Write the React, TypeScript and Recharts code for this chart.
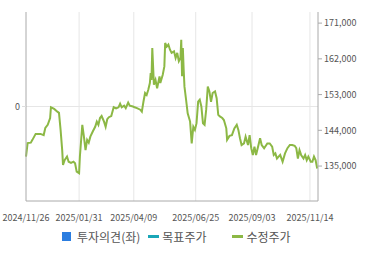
import { LineChart, Line, XAxis, YAxis, ReferenceLine } from "recharts";

// first trading day shown on the chart
const startDate = "2024-11-26";

const dateTicks = ["2024/11/26", "2025/01/31", "2025/04/09", "2025/06/25", "2025/09/03", "2025/11/14"];
const priceTicks = [135000, 144000, 153000, 162000, 171000];
const opinionTicks = [0];

// days since startDate
const days = [
    0, 2, 6, 8, 12, 18, 22, 24, 27, 30, 31, 35, 39, 41, 43, 45, 46, 48, 51, 53, 56, 59, 61, 63, 66, 67,
    70, 72, 74, 76, 78, 80, 83, 86, 88, 90, 92, 94, 97, 99, 101, 103, 106, 109, 112, 115, 117, 119, 122,
    124, 127, 129, 133, 135, 138, 142, 144, 146, 148, 150, 152, 154, 155, 156, 157, 159, 161, 163, 166,
    167, 170, 172, 173, 175, 177, 179, 181, 184, 186, 188, 190, 192, 193, 194, 195, 196, 197, 199, 201,
    204, 206, 208, 210, 212, 214, 216, 218, 220, 222, 224, 226, 228, 230, 232, 235, 237, 239, 241, 244,
    246, 249, 250, 253, 256, 259, 262, 264, 266, 268, 271, 273, 276, 278, 280, 282, 284, 286, 289, 291,
    293, 296, 300, 303, 306, 308, 310, 312, 316, 319, 322, 325, 328, 331, 334, 336, 338, 340, 342, 345,
    347, 349, 351, 354, 356, 358, 360, 362,
];

// 수정주가 (adjusted price)
const adjPrices = [
    137400, 140800, 140900, 141600, 143100, 143100, 142800, 144600, 145400, 147100, 149800, 149400, 148700,
    148400, 144100, 139000, 135300, 136500, 137400, 136100, 135800, 136100, 135700, 133600, 133200, 137400,
    145400, 142400, 139000, 141600, 140900, 142400, 143700, 144900, 146200, 145400, 147100, 147600, 146200,
    144900, 146800, 147300, 147600, 149800, 149500, 149800, 150700, 149800, 150200, 149600, 151000, 150200,
    150000, 149800, 149600, 149200, 148700, 151200, 153400, 152900, 154200, 155900, 158400, 156700, 164700,
    155500, 156700, 154600, 157600, 155900, 158000, 160100, 166000, 165100, 165600, 164300, 163500, 163900,
    162200, 163500, 161400, 162200, 166800, 157600, 164700, 159300, 155000, 151700, 148300, 146200, 140700,
    144900, 144100, 145800, 151200, 151700, 150000, 145800, 145400, 149200, 155000, 153800, 151200, 153400,
    153800, 152100, 147900, 147500, 147100, 146600, 144500, 141600, 142600, 142800, 144500, 145400, 144100,
    142000, 140300, 140700, 142400, 140300, 142800, 139500, 137800, 139900, 137800, 140300, 142000, 140300,
    139500, 140700, 140700, 139900, 137800, 138200, 136900, 137800, 136100, 138200, 139500, 140300, 140300,
    140100, 139500, 136900, 139000, 137800, 136900, 137800, 136500, 137400, 136100, 136100, 137400, 136500,
    134400,
];

const legendItems = [
    { label: "투자의견(좌)", color: "#2b7de0", kind: "box" },
    { label: "목표주가", color: "#1aa6b7", kind: "line" },
    { label: "수정주가", color: "#8cb845", kind: "line" },
];

const toDay = (label: string) =>
    Math.round((Date.parse(label.replace(/\//g, "-")) - Date.parse(startDate)) / 86400000);

const chartData = days.map((d, i) => ({ day: d, price: adjPrices[i] }));
const tickDays = dateTicks.map(toDay);

const axisText = { fontSize: 9, fill: "#555", fontFamily: "'Noto Sans CJK KR', sans-serif" };

const App = () => {
    return (
        <div style={{ width: 370, height: 255, background: "#fff", fontFamily: "'Noto Sans CJK KR', sans-serif" }}>
            <style>{"body{margin:0}"}</style>
            <LineChart width={370} height={225} data={chartData} margin={{ top: 12, right: 0, bottom: 0, left: 0 }}>
                <XAxis
                    dataKey="day"
                    type="number"
                    domain={[0, 363]}
                    ticks={tickDays}
                    tickFormatter={(v: number) => dateTicks[tickDays.indexOf(v)] ?? ""}
                    height={24}
                    tickLine={false}
                    tickMargin={8}
                    axisLine={{ stroke: "#aaa" }}
                    tick={axisText}
                    interval={0}
                />
                <XAxis
                    xAxisId="top"
                    orientation="top"
                    dataKey="day"
                    type="number"
                    domain={[0, 363]}
                    height={0}
                    tick={false}
                    tickLine={false}
                    axisLine={{ stroke: "#aaa" }}
                />
                <YAxis
                    yAxisId="left"
                    type="number"
                    domain={[-1, 1]}
                    allowDataOverflow
                    ticks={opinionTicks}
                    interval={0}
                    width={26}
                    tickSize={4}
                    tickMargin={2}
                    tickLine={{ stroke: "#ddd" }}
                    axisLine={{ stroke: "#aaa" }}
                    tick={axisText}
                />
                <YAxis
                    yAxisId="right"
                    orientation="right"
                    type="number"
                    domain={[126200, 173800]}
                    ticks={priceTicks}
                    tickFormatter={(v: number) => v.toLocaleString("en-US")}
                    width={52}
                    tickSize={4}
                    tickMargin={2}
                    tickLine={{ stroke: "#aaa" }}
                    axisLine={{ stroke: "#aaa" }}
                    tick={axisText}
                />
                {tickDays.slice(1).map((d) => (
                    <ReferenceLine key={d} x={d} yAxisId="right" stroke="#e6e6e6" />
                ))}
                <ReferenceLine y={0} yAxisId="left" stroke="#e6e6e6" ifOverflow="visible" />
                <Line
                    yAxisId="right"
                    dataKey="price"
                    type="linear"
                    stroke="#8cb845"
                    strokeWidth={2}
                    dot={false}
                    isAnimationActive={false}
                />
            </LineChart>
            <div style={{ display: "flex", alignItems: "center", height: 22, paddingLeft: 62, fontSize: 12, color: "#555" }}>
                {legendItems.map((item, i) => (
                    <div key={item.label} style={{ display: "flex", alignItems: "center", marginRight: i === 0 ? 8 : 26 }}>
                        {item.kind === "box" ? (
                            <span style={{ width: 9, height: 9, background: item.color, marginRight: 6 }} />
                        ) : (
                            <span style={{ width: 11, height: 3, background: item.color, marginRight: 3 }} />
                        )}
                        <span>{item.label}</span>
                    </div>
                ))}
            </div>
        </div>
    );
};

export default App;
